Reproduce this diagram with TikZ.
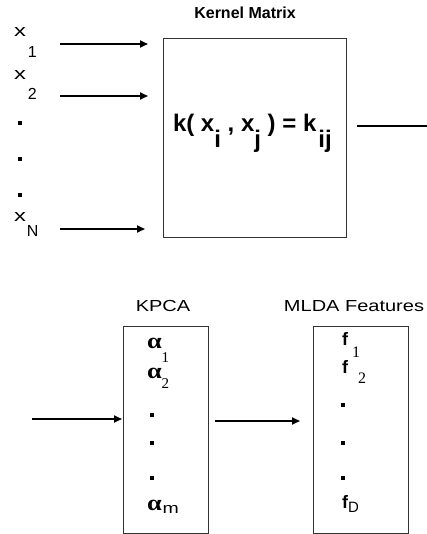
\documentclass[tikz,border=0pt]{standalone}
\usepackage{fontspec}
\setmainfont{Liberation Sans}
\newfontfamily\serf{Liberation Serif}
\usetikzlibrary{arrows.meta}

% font size shortcut, a lowered shifted subscript, and a widened letter
\newcommand\fsz[1]{\fontsize{#1}{#1}\selectfont}
\newcommand\lowsub[3]{\kern#1pt\raisebox{-#2pt}{#3}}
\newcommand\wide[2]{\scalebox{#1}[1]{#2}}

\begin{document}
\begin{tikzpicture}[x=1pt,y=-1pt,
  every node/.style={inner sep=0pt, outer sep=0pt, text=black},
  boxed/.style={draw=black!80, line width=0.9pt, fill=none},
  conn/.style={line width=1.8pt, -{Triangle[length=8pt,width=7pt]}},
  plain/.style={line width=1.8pt},
  lbl/.style={anchor=base west, font=\fsz{17}},
  dotmark/.style={rectangle, fill=black, minimum size=4pt},
  title/.style={anchor=base, font=\fsz{16}}]
\useasboundingbox (0,0) rectangle (427,534);

% ---- kernel matrix block ----
\node[boxed, minimum width=183pt, minimum height=199pt, anchor=north west] (km) at (163,38) {};
\node[title, font=\fsz{16}\bfseries] (kmt) at (245,19) {Kernel Matrix};
\node[anchor=base west, font=\fsz{24}\bfseries] (kf) at (173,132)
  {k( x\lowsub{0}{16}{i} , x\lowsub{0}{16}{j} ) = k\lowsub{2}{16}{ij}};

% ---- inputs ----
\node[lbl] (x1) at (14,37) {\wide{1.4}{x}\lowsub{2}{21}{\fsz{16}1}};
\node[lbl] (x2) at (14,80) {\wide{1.4}{x}\lowsub{2}{20}{\fsz{16}2}};
\node[lbl] (xn) at (14,222) {\wide{1.4}{x}\lowsub{1}{15}{\fsz{16}N}};
\node[dotmark] (xd1) at (20,123) {};
\node[dotmark] (xd2) at (20,159) {};
\node[dotmark] (xd3) at (20,195) {};

\coordinate (s1) at (60,44);
\coordinate (s2) at (60,96);
\coordinate (sn) at (60,229);
\draw[conn, shorten >=15pt] (s1) -- (s1 -| km.west);
\draw[conn, shorten >=15pt] (s2) -- (s2 -| km.west);
\draw[conn, shorten >=18pt] (sn) -- (sn -| km.west);

% output of the kernel block
\coordinate (kout) at (427,126);
\draw[plain, shorten <=11pt] (km.east |- kout) -- (kout);

% ---- KPCA block ----
\node[boxed, minimum width=85pt, minimum height=207pt, anchor=north west] (kpca) at (123,326) {};
\node[title] (kpcat) at (163,311) {\wide{1.25}{KPCA}};
\node[anchor=base west] (a1) at (147,348)
  {\wide{1.2}{\serf\fsz{22}\bfseries α}\lowsub{0}{14}{\serf\fsz{15}1}};
\node[anchor=base west] (a2) at (147,378)
  {\wide{1.2}{\serf\fsz{22}\bfseries α}\lowsub{0}{10}{\serf\fsz{15}2}};
\node[anchor=base west] (am) at (147,510)
  {\wide{1.2}{\serf\fsz{22}\bfseries α}\lowsub{1}{3}{\wide{1.3}{\fsz{15}m}}};
\node[dotmark] (ad1) at (152,415) {};
\node[dotmark] (ad2) at (152,443) {};
\node[dotmark] (ad3) at (152,478) {};

\coordinate (kin) at (32,419);
\draw[conn, shorten >=1pt] (kin) -- (kin -| kpca.west);

% ---- MLDA features block ----
\node[boxed, minimum width=95pt, minimum height=207pt, anchor=north west] (mlda) at (313,326) {};
\node[title] (mldat) at (354,311) {\wide{1.25}{MLDA Features}};
\node[anchor=base west, font=\fsz{18}\bfseries] (f1) at (342,345)
  {f\lowsub{4}{12}{\serf\mdseries\fsz{16}1}};
\node[anchor=base west, font=\fsz{18}\bfseries] (f2) at (342,373)
  {f\lowsub{10}{10}{\serf\mdseries\fsz{16}2}};
\node[anchor=base west, font=\fsz{18}\bfseries] (fd) at (342,508)
  {f\lowsub{0}{4}{\mdseries\fsz{15}D}};
\node[dotmark] (fd1) at (343,405) {};
\node[dotmark] (fd2) at (343,443) {};
\node[dotmark] (fd3) at (343,478) {};

\draw[conn, shorten <=7pt, shorten >=13pt]
  ([yshift=8.5pt]kpca.east) -- ([yshift=8.5pt]mlda.west);
\end{tikzpicture}
\end{document}
